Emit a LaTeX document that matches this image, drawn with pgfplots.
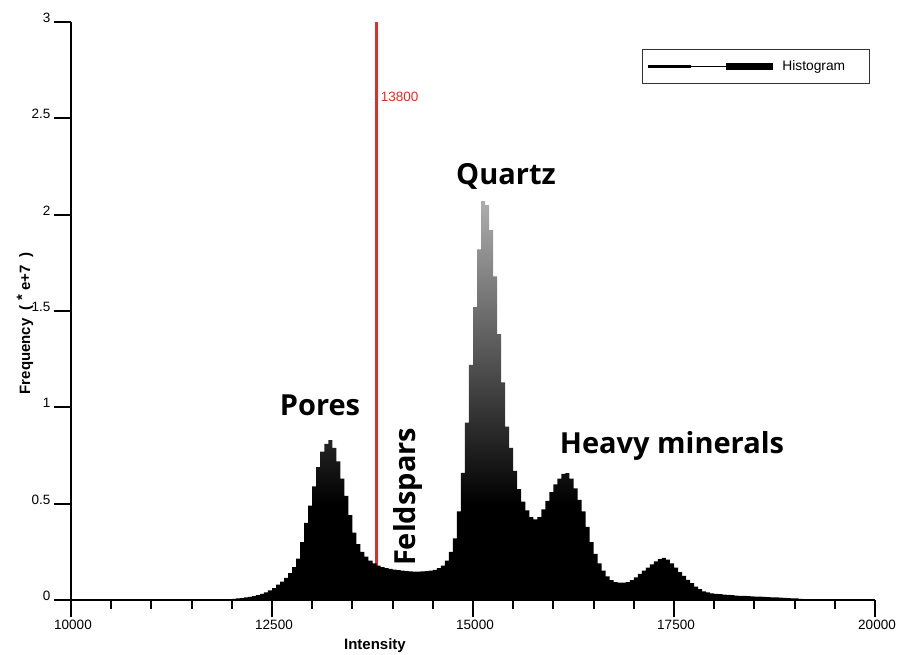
\documentclass[border=0pt]{standalone}
\usepackage{fontspec}
\setmainfont{Liberation Sans}
\newfontfamily\peakfont{Open Sans}
\usepackage{pgfplots}
\pgfplotsset{compat=1.18}

\definecolor{histtop}{gray}{0.68}
\definecolor{cutred}{RGB}{225,45,40}
% black up to about 0.5e7 counts, fading to grey at the tallest bin
\pgfdeclareverticalshading{histshade}{100bp}{color(0bp)=(black); color(37bp)=(black); color(75bp)=(histtop); color(100bp)=(histtop)}

\begin{document}
\begin{tikzpicture}
\path[use as bounding box] (0,0) rectangle (901pt,655pt);
\begin{axis}[
  at={(71pt,55pt)}, anchor=south west,
  scale only axis, width=804pt, height=578pt,
  xmin=10000, xmax=20000, ymin=0, ymax=3,
  axis x line*=bottom, axis y line*=left,
  axis line style={line width=2.2pt, -},
  tick align=outside,
  xtick={10000,12500,15000,17500,20000},
  minor x tick num=4,
  ytick={0,0.5,1,1.5,2,2.5,3},
  major tick length=17pt, minor tick length=9pt,
  every tick/.style={black, line width=2pt},
  scaled x ticks=false,
  /pgf/number format/assume math mode=true,
  /pgf/number format/set thousands separator={},
  tick label style={font=\fontsize{13.5}{15}\selectfont},
  xticklabel style={xshift=2pt},
  yticklabel style={yshift=4pt},
  xlabel={Intensity},
  ylabel={Frequency\ \ (\ \raisebox{3pt}{*}\ e+7\ \ )},
  label style={font=\fontsize{15}{17}\selectfont\bfseries},
  xlabel style={at={(axis description cs:0.378,-0.0796)}, anchor=center},
  ylabel style={at={(axis description cs:-0.0572,0.479)}, anchor=center},
  legend style={at={(rel axis cs:0.710,0.953)}, anchor=north west,
    draw=black!80, line width=1.2pt, inner xsep=4pt, inner ysep=9pt,
    font=\fontsize{13.8}{16}\selectfont},
  legend cell align=left,
  clip=false,
]
% threshold separating pores from the solid phases
\addplot[cutred, line width=2.2pt, forget plot] coordinates {(13800,0) (13800,3)};
\node[cutred, anchor=west, font=\fontsize{13.5}{15}\selectfont] at (axis cs:13810,2.61) {13800};

% histogram, 50-wide intensity bins (left edges), frequency in 1e7 counts
\addplot[const plot, draw=none, shade, shading=histshade, forget plot] coordinates {
(11900,0.002) (11950,0.004) (12000,0.006) (12050,0.008) (12100,0.010)
(12150,0.013) (12200,0.016) (12250,0.020) (12300,0.025) (12350,0.032)
(12400,0.040) (12450,0.050) (12500,0.062) (12550,0.080) (12600,0.095)
(12650,0.115) (12700,0.140) (12750,0.170) (12800,0.215) (12850,0.300)
(12900,0.400) (12950,0.490) (13000,0.590) (13050,0.690) (13100,0.770)
(13150,0.810) (13200,0.830) (13250,0.790) (13300,0.720) (13350,0.630)
(13400,0.540) (13450,0.440) (13500,0.350) (13550,0.290) (13600,0.250)
(13650,0.225) (13700,0.205) (13750,0.190) (13800,0.178) (13850,0.170)
(13900,0.165) (13950,0.162) (14000,0.158) (14050,0.155) (14100,0.152)
(14150,0.150) (14200,0.148) (14250,0.147) (14300,0.147) (14350,0.148)
(14400,0.150) (14450,0.153) (14500,0.157) (14550,0.165) (14600,0.178)
(14650,0.205) (14700,0.250) (14750,0.320) (14800,0.460) (14850,0.660)
(14900,0.920) (14950,1.220) (15000,1.520) (15050,1.820) (15100,2.070)
(15150,2.050) (15200,1.920) (15250,1.680) (15300,1.380) (15350,1.130)
(15400,0.900) (15450,0.790) (15500,0.670) (15550,0.575) (15600,0.510)
(15650,0.465) (15700,0.430) (15750,0.418) (15800,0.430) (15850,0.470)
(15900,0.515) (15950,0.560) (16000,0.600) (16050,0.630) (16100,0.655)
(16150,0.658) (16200,0.630) (16250,0.580) (16300,0.520) (16350,0.460)
(16400,0.380) (16450,0.300) (16500,0.240) (16550,0.190) (16600,0.152)
(16650,0.122) (16700,0.103) (16750,0.093) (16800,0.090) (16850,0.090)
(16900,0.093) (16950,0.103) (17000,0.118) (17050,0.135) (17100,0.152)
(17150,0.168) (17200,0.185) (17250,0.200) (17300,0.212) (17350,0.218)
(17400,0.210) (17450,0.190) (17500,0.168) (17550,0.145) (17600,0.125)
(17650,0.105) (17700,0.087) (17750,0.070) (17800,0.056) (17850,0.045)
(17900,0.039) (17950,0.035) (18000,0.032) (18050,0.030) (18100,0.028)
(18150,0.026) (18200,0.025) (18250,0.023) (18300,0.022) (18350,0.021)
(18400,0.020) (18450,0.019) (18500,0.018) (18550,0.017) (18600,0.016)
(18650,0.015) (18700,0.014) (18750,0.013) (18800,0.012) (18850,0.011)
(18900,0.010) (18950,0.009) (19000,0.008) (19050,0.006) (19100,0.004)
(19150,0.002) (19200,0)
} \closedcycle;

\addlegendimage{legend image code/.code={
  \draw[line width=3.3pt] (0pt,0pt) -- (43pt,0pt);
  \draw[line width=1pt] (43pt,0pt) -- (78pt,0pt);
  \draw[line width=6.5pt] (78pt,0pt) -- (125pt,0pt);
}}
\addlegendentry{\hspace{4pt}Histogram\hspace{18pt}\mbox{}}

% phase labels
\node[anchor=base, font=\peakfont\bfseries\fontsize{29}{34}\selectfont] at (axis cs:13097,0.955) {Pores};
\node[anchor=base, font=\peakfont\bfseries\fontsize{29}{34}\selectfont] at (axis cs:15410,2.159) {Quartz};
\node[anchor=base, font=\peakfont\bfseries\fontsize{29}{34}\selectfont] at (axis cs:17475,0.758) {Heavy minerals};
\node[anchor=base, rotate=90, font=\peakfont\bfseries\fontsize{29}{34}\selectfont] at (axis cs:14279,0.535) {Feldspars};
\end{axis}
\end{tikzpicture}
\end{document}
